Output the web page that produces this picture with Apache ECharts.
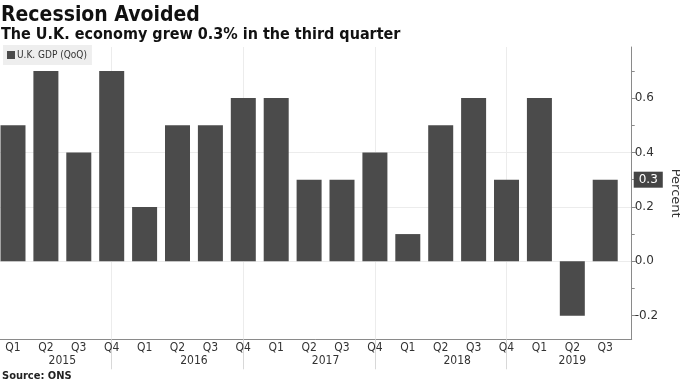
<!DOCTYPE html>
<html><head><meta charset="utf-8">
<script src="https://cdn.jsdelivr.net/npm/echarts@6/dist/echarts.min.js"></script>
<style>html,body{margin:0;padding:0;background:#fff}#c{width:680px;height:383px}</style>
</head><body><div id="c"></div>
<script>
const quarters = ['Q1','Q2','Q3','Q4','Q1','Q2','Q3','Q4','Q1','Q2','Q3','Q4','Q1','Q2','Q3','Q4','Q1','Q2','Q3'];
const years = ['2015','2015','2015','2015','2016','2016','2016','2016','2017','2017','2017','2017','2018','2018','2018','2018','2019','2019','2019'];
const gdp = [0.5,0.7,0.4,0.7,0.2,0.5,0.5,0.6,0.6,0.3,0.3,0.4,0.1,0.5,0.6,0.3,0.6,-0.2,0.3];
const yLabelValues = [-0.2,0,0.2,0.4,0.6];
const yMinorValues = [-0.1,0.1,0.3,0.5,0.7];
const lastValue = 0.3;
const seriesName = 'U.K. GDP (QoQ)';

const FONT = "'DejaVu Sans Condensed','DejaVu Sans',sans-serif";
const idx = quarters.map((q,i)=>i);
const yearNames = [...new Set(years)];
const yearCenters = yearNames.map(y=>{const ii=idx.filter(i=>years[i]===y);return (ii[0]+ii[ii.length-1])/2;});
const sepIdx = idx.filter(i=>quarters[i]==='Q4');
const X_MIN=-0.395, X_MAX=18.805;
const Y_MIN=-0.287, Y_MAX=0.788;

const chart = echarts.init(document.getElementById('c'));
chart.setOption({
  animation:false,
  backgroundColor:'#fff',
  title:[
    {text:'Recession Avoided',subtext:'The U.K. economy grew 0.3% in the third quarter',left:1,top:5,padding:0,itemGap:1,
     textStyle:{fontFamily:FONT,fontWeight:'bold',fontSize:21,color:'#111'},
     subtextStyle:{fontFamily:FONT,fontWeight:'bold',fontSize:16,color:'#111'}},
    {text:'Source: ONS',left:2,top:371,padding:0,textStyle:{fontFamily:FONT,fontWeight:'bold',fontSize:11,color:'#222'}}
  ],
  legend:{left:3,top:45,padding:[5,5,5,4],backgroundColor:'#eeeeee',itemWidth:8,itemHeight:8,itemGap:4,
    icon:'rect',textStyle:{fontFamily:FONT,fontSize:10,color:'#333',padding:[0,0,0,-3]},data:[seriesName]},
  grid:{left:0,right:48.3,top:47,bottom:43.7,outerBoundsMode:'none',containLabel:false},
  xAxis:[
    {type:'value',min:X_MIN,max:X_MAX,position:'bottom',
     axisLine:{show:true,onZero:false,lineStyle:{color:'#8a8a8a',width:1}},
     axisTick:{show:false},splitLine:{show:false},
     axisLabel:{customValues:idx,formatter:v=>quarters[Math.round(v)],margin:3,fontFamily:FONT,fontSize:12,color:'#333'}},
    {type:'value',min:X_MIN,max:X_MAX,position:'bottom',
     axisLine:{show:false,onZero:false},
     axisTick:{show:true,customValues:sepIdx,length:30,lineStyle:{color:'#d8d8d8'}},
     splitLine:{show:true,lineStyle:{color:'#ececec'}},
     axisLabel:{customValues:yearCenters,formatter:v=>yearNames[yearCenters.indexOf(v)],margin:16,fontFamily:FONT,fontSize:12,color:'#333'}}
  ],
  yAxis:[
    {type:'value',min:Y_MIN,max:Y_MAX,position:'right',
     name:'Percent',nameLocation:'middle',nameRotate:-90,nameGap:30,
     nameTextStyle:{fontFamily:"'DejaVu Sans',sans-serif",fontSize:13,color:'#333'},
     axisLine:{show:true,onZero:false,lineStyle:{color:'#8a8a8a'}},
     axisTick:{show:true,customValues:yLabelValues,length:4,lineStyle:{color:'#8a8a8a'}},
     axisLabel:{customValues:yLabelValues,formatter:v=>v.toFixed(1),margin:3,fontFamily:"'DejaVu Sans',sans-serif",fontSize:12,color:'#333'},
     splitLine:{show:true,showMinLine:false,showMaxLine:false,lineStyle:{color:'#ececec'}},
     axisPointer:{show:true,value:lastValue,status:'show',triggerTooltip:false,triggerOn:'none',type:'line',
       lineStyle:{opacity:0},
       label:{show:true,formatter:p=>Number(p.value).toFixed(1),backgroundColor:'#444',color:'#fff',padding:[2,5],
         fontFamily:"'DejaVu Sans',sans-serif",fontSize:12,margin:2,borderRadius:0}}},
    {type:'value',min:Y_MIN,max:Y_MAX,position:'right',
     axisLine:{show:false,onZero:false},axisLabel:{show:false},splitLine:{show:false},
     axisTick:{show:true,customValues:yMinorValues,length:3,lineStyle:{color:'#8a8a8a'}}}
  ],
  series:[{
    name:seriesName,type:'bar',xAxisIndex:0,yAxisIndex:0,barWidth:25,
    itemStyle:{color:'#4b4b4b'},
    data:gdp.map((v,i)=>[i,v])
  }]
});
</script></body></html>
